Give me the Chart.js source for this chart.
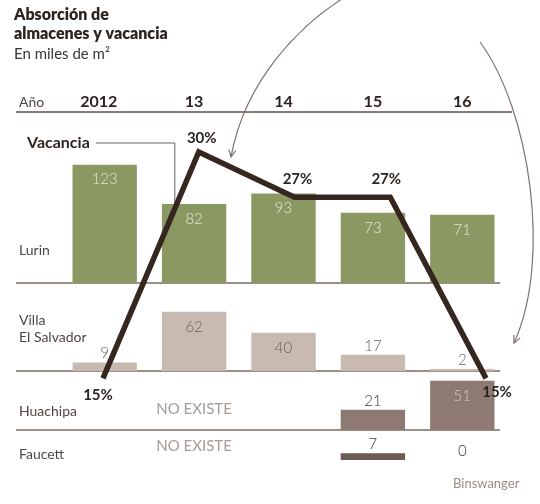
<!DOCTYPE html>
<html>
<head>
<meta charset="utf-8">
<script src="https://cdn.jsdelivr.net/npm/chart.js@4.4.0/dist/chart.umd.min.js"></script>
<style>
html, body { margin: 0; padding: 0; background: #fff; }
#wrap { position: relative; width: 540px; height: 504px; }
</style>
</head>
<body>
<div id="wrap"><canvas id="chart" width="540" height="504"></canvas></div>
<script>
// Data (miles de m2 / % vacancia)
const years = ['2012', '13', '14', '15', '16'];
const lurin = [123, 82, 93, 73, 71];
const villaElSalvador = [9, 62, 40, 17, 2];
const huachipa = [null, null, null, 21, 51];
const faucett = [null, null, null, 7, 0];
const vacancia = [15, 30, 27, 27, 15];
const huachipaNote = [null, 'NO EXISTE', null, null, null];
const faucettNote = [null, 'NO EXISTE', null, null, null];

const FONT = 'Lato, "Open Sans", sans-serif';

// one row per zone, each on its own stacked y axis
const rows = [
    {axis: 'yL', name: ['Lurin'], data: lurin, note: null,
     color: '#8a9862', inside: '#e3e7d3', outside: '#6f7b4f', labelDy: -33},
    {axis: 'yV', name: ['Villa', 'El Salvador'], data: villaElSalvador, note: null,
     color: '#c9bab1', inside: '#6c605a', outside: '#6c605a', labelDy: -51},
    {axis: 'yH', name: ['Huachipa'], data: huachipa, note: huachipaNote,
     color: '#8f7a73', inside: '#d6c8c2', outside: '#3f332e', labelDy: -19},
    {axis: 'yF', name: ['Faucett'], data: faucett, note: faucettNote,
     color: '#6c5a54', inside: '#e0d6d2', outside: '#3f332e', labelDy: -6}
];

const pctOffsets = [[-5, 17], [3, -14], [3, -18], [-4, -18], [11, 14]];

function arrow(ctx, p0, c1, c2, p3) {
    ctx.beginPath();
    ctx.moveTo(p0[0], p0[1]);
    ctx.bezierCurveTo(c1[0], c1[1], c2[0], c2[1], p3[0], p3[1]);
    ctx.stroke();
    const a = Math.atan2(p3[1] - c2[1], p3[0] - c2[0]);
    const len = 8;
    ctx.beginPath();
    ctx.moveTo(p3[0] - len * Math.cos(a - 0.45), p3[1] - len * Math.sin(a - 0.45));
    ctx.lineTo(p3[0], p3[1]);
    ctx.lineTo(p3[0] - len * Math.cos(a + 0.45), p3[1] - len * Math.sin(a + 0.45));
    ctx.stroke();
}

const decorPlugin = {
    id: 'decor',
    beforeDatasetsDraw(chart) {
        const ctx = chart.ctx;
        const x = chart.scales.x;
        ctx.save();

        // title
        ctx.fillStyle = '#2b2420';
        ctx.textBaseline = 'middle';
        ctx.textAlign = 'left';
        ctx.font = '800 16px ' + FONT;
        ctx.fillText('Absorción de', 14, 15);
        ctx.fillText('almacenes y vacancia', 14, 34);
        ctx.font = '15px ' + FONT;
        ctx.fillStyle = '#3c3532';
        ctx.fillText('En miles de m²', 14, 54);

        // header row
        ctx.font = '14px ' + FONT;
        ctx.fillStyle = '#4e4643';
        ctx.fillText('Año', 19, 102);
        ctx.font = 'bold 16px ' + FONT;
        ctx.fillStyle = '#2b2420';
        ctx.textAlign = 'center';
        years.forEach((y, i) => {
            ctx.fillText(y, x.getPixelForValue(i) - (i === 0 ? 6 : 0), 102);
        });
        ctx.strokeStyle = '#8a7c75';
        ctx.lineWidth = 2;
        ctx.beginPath();
        ctx.moveTo(16, 112);
        ctx.lineTo(512, 112);
        ctx.stroke();

        // row names, baselines, notes
        rows.forEach((r, k) => {
            const base = chart.scales[r.axis].getPixelForValue(0);
            ctx.textAlign = 'left';
            ctx.font = '14px ' + FONT;
            ctx.fillStyle = '#4e4643';
            r.name.forEach((t, j) => ctx.fillText(t, 19, base + r.labelDy + j * 17));
            if (k < 3) {
                ctx.strokeStyle = '#9d8f88';
                ctx.lineWidth = 2;
                ctx.beginPath();
                ctx.moveTo(16, base);
                ctx.lineTo(500, base);
                ctx.stroke();
            }
            if (r.note) {
                ctx.font = '15px ' + FONT;
                ctx.fillStyle = '#a59b96';
                ctx.textAlign = 'center';
                r.note.forEach((t, i) => {
                    if (t) ctx.fillText(t, x.getPixelForValue(i), base - 21 + (k === 3 ? 7 : 0));
                });
            }
        });

        // Vacancia label with leader line
        const xv = chart.scales.xv, yp = chart.scales.yPct;
        ctx.textAlign = 'left';
        ctx.font = 'bold 16px ' + FONT;
        ctx.fillStyle = '#2b2420';
        ctx.fillText('Vacancia', 27, 143);
        const lx = xv.getPixelForValue(0.75);
        const ly = yp.getPixelForValue(vacancia[0] + 0.75 * (vacancia[1] - vacancia[0]));
        ctx.strokeStyle = '#6a605a';
        ctx.lineWidth = 1;
        ctx.beginPath();
        ctx.moveTo(96, 143);
        ctx.lineTo(lx, 143);
        ctx.lineTo(lx, ly);
        ctx.stroke();

        // decorative arrows
        ctx.strokeStyle = '#7d726d';
        ctx.lineWidth = 1.2;
        arrow(ctx, [345, -3], [300, 25], [245, 80], [231, 157]);
        arrow(ctx, [480, 42], [530, 110], [552, 260], [514, 343]);

        // source
        ctx.font = '13px ' + FONT;
        ctx.fillStyle = '#9a8c86';
        ctx.textAlign = 'left';
        ctx.fillText('Binswanger', 453, 484);
        ctx.restore();
    },
    afterDatasetsDraw(chart) {
        const ctx = chart.ctx;
        ctx.save();
        ctx.textAlign = 'center';
        ctx.textBaseline = 'middle';
        ctx.font = '300 15px ' + FONT;
        rows.forEach((r, k) => {
            const meta = chart.getDatasetMeta(k + 1);
            meta.data.forEach((bar, i) => {
                const v = r.data[i];
                if (v === null) return;
                const h = bar.base - bar.y;
                if (h > 30) {
                    ctx.fillStyle = r.inside;
                    ctx.fillText(String(v), bar.x, bar.y + 15);
                } else {
                    ctx.fillStyle = r.outside;
                    ctx.fillText(String(v), bar.x, bar.y - 9);
                }
            });
        });
        // vacancy labels
        const lineMeta = chart.getDatasetMeta(0);
        ctx.font = 'bold 15px ' + FONT;
        ctx.fillStyle = '#2b2420';
        lineMeta.data.forEach((pt, i) => {
            const o = pctOffsets[i];
            ctx.fillText(vacancia[i] + '%', pt.x + o[0], pt.y + o[1]);
        });
        ctx.restore();
    }
};

const datasets = [{
    type: 'line',
    label: 'Vacancia',
    data: vacancia.map((v, i) => ({x: i, y: v})),
    xAxisID: 'xv',
    yAxisID: 'yPct',
    borderColor: '#35261f',
    borderWidth: 5.5,
    borderJoinStyle: 'miter',
    pointRadius: 0,
    tension: 0,
    order: 0
}];
rows.forEach(r => {
    datasets.push({
        type: 'bar',
        label: r.name.join(' '),
        data: r.data,
        xAxisID: 'x',
        yAxisID: r.axis,
        backgroundColor: r.color,
        grouped: false,
        barPercentage: 0.72,
        categoryPercentage: 1,
        order: 1
    });
});

new Chart(document.getElementById('chart'), {
    data: { labels: years, datasets: datasets },
    options: {
        responsive: false,
        animation: false,
        layout: { padding: { left: 60, right: 33, top: 130, bottom: 44 } },
        plugins: { legend: { display: false }, tooltip: { enabled: false } },
        scales: {
            x: { type: 'category', offset: true, display: false },
            xv: { type: 'linear', min: -0.449, max: 4.219, display: false },
            yL: { type: 'linear', position: 'right', stack: 'rows', stackWeight: 153, min: 0, max: 159, display: false },
            yV: { type: 'linear', position: 'right', stack: 'rows', stackWeight: 88, min: 0, max: 92, display: false },
            yH: { type: 'linear', position: 'right', stack: 'rows', stackWeight: 59, min: 0, max: 61, display: false },
            yF: { type: 'linear', position: 'right', stack: 'rows', stackWeight: 30, min: 0, max: 31, display: false },
            yPct: { type: 'linear', position: 'left', min: 9.59, max: 31.46, display: false }
        }
    },
    plugins: [decorPlugin]
});
</script>
</body>
</html>
